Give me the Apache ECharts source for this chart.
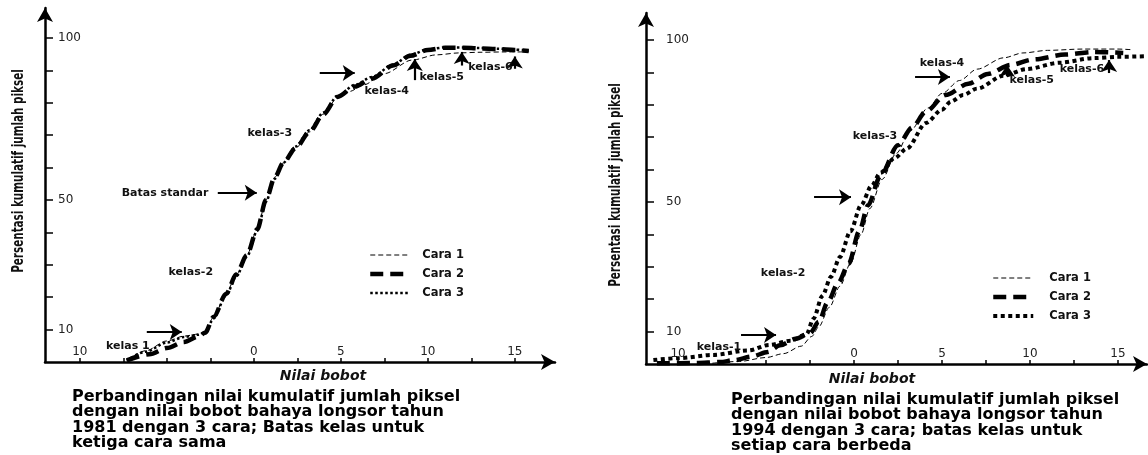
<!DOCTYPE html>
<html><head><meta charset="utf-8">
<script src="https://cdn.jsdelivr.net/npm/echarts@6/dist/echarts.min.js"></script>
<style>html,body{margin:0;padding:0;background:#fff}#c{width:1148px;height:455px}</style>
</head><body><div id="c"></div>
<script>
// ---- 1981 (left) ----
const nilai81Cara1 = [-7.3,-6.2,-5,-4,-3.2,-2.8,-2.3,-1.6,-1,-0.4,0.2,0.7,1.2,1.7,2.4,3.2,4,4.8,5.5,6.3,7.5,9.1,10.5,11.8,13,14.5,15.8];
const persen81Cara1 = [0.5,3.5,6.5,8,8.6,9.2,14,21,27,33,41,50,57,61.5,66,71,76.5,81.5,83.5,85.5,89,93.2,94.8,95.4,95.6,95.7,95.7];
const nilai81Cara2 = [-7.3,-6,-5,-4,-3.2,-2.8,-2.3,-1.6,-1,-0.4,0.2,0.7,1.2,1.7,2.4,3.2,4,4.8,5.8,6.8,8,9,10,11,12,13,14,15,15.8];
const persen81Cara2 = [0.5,2.4,4.3,6.2,7.8,9,14,21,27,33,41,50,57,61.5,66,71,76.5,81.8,85,87.5,91.5,94.5,96.3,97,97,96.8,96.6,96.3,96];
const nilai81Cara3 = [-7.3,-6.2,-5,-4,-3.2,-2.8,-2.3,-1.6,-1,-0.4,0.2,0.7,1.2,1.7,2.4,3.2,4,4.8,5.8,6.8,8,9,10,11,12,13,14,15,15.8];
const persen81Cara3 = [0.5,3.2,6,7.7,8.4,9,13.5,20.5,26.5,32.5,40.5,49.5,56.5,61.5,66.5,71.5,77,82,85.5,88,91.8,94.8,96.5,97.1,97.1,96.9,96.7,96.4,96.1];
// ---- 1994 (right) ----
const nilai94Cara1 = [-8.5,-6.5,-5,-4,-3,-2.4,-2,-1.4,-0.8,-0.2,0.4,0.9,1.6,2.4,3.2,4.2,5,6,7,8.5,9.6,11,13,15,15.8];
const persen94Cara1 = [0,0.8,2,3.2,5.5,8.5,11.5,17.5,24,31,40,48,57,65,72,79,83.5,87.5,91,94.5,96,96.8,97.2,97.2,97];
const nilai94Cara2 = [-11.2,-9,-7.6,-6.8,-5.8,-4.9,-4.2,-3.3,-2.5,-2,-1.5,-0.9,-0.3,0.3,0.8,1.5,2.5,3.3,4.1,5.2,6.5,7.6,8.9,10.2,12,13.6,15.3];
const persen94Cara2 = [0.2,0.3,0.6,1.2,2.3,3.7,5.8,7.8,9.5,13,19,25,31,41,49,58,67.5,73,78,83,86.5,89.5,92.3,94,95.5,96.3,96];
const nilai94Cara3 = [-11.4,-10,-8,-6,-4.8,-3.6,-2.7,-2.3,-1.8,-1.3,-0.8,-0.2,0.4,1,1.5,2.3,3,4.1,5,5.5,6.2,7,8.5,9.8,11.7,13.6,15,16.6];
const persen94Cara3 = [1.2,1.8,2.8,4.2,5.9,7.2,9.2,14,21,27,33,41,49,55,59,63.5,66.5,74.4,78.5,81,83,85,89,91,93,94.4,94.8,95];
// ---- ticks ----
const xTickVals = [-10,-7.5,-5,-2.5,0,2.5,5,7.5,10,12.5,15];
const xLabelVals = [-10,0,5,10,15];
const yTickVals = [10,20,30,40,50,60,70,80,90,100];
const yLabelVals = [10,50,100];
const legendNames = ['Cara 1','Cara 2','Cara 3'];
// ---- annotations (data coords) ----
const labels81 = [['kelas 1',-7.24,4.9],['kelas-2',-3.62,27.8],['Batas standar',-5.1,52.2],['kelas-3',0.92,70.7],['kelas-4',7.64,83.6],['kelas-5',10.8,88],['kelas-6',13.6,91]];
const arrows81 = [[-6.15,9.26,-4.14,9.26],[-2.07,52.2,0.17,52.2],[3.79,89.2,5.8,89.2],[9.25,87,9.25,93.5],[11.95,91.5,11.95,95.7],[15,90.5,15,94.3]];
const labels94 = [['kelas-1',-7.67,5.2],['kelas-2',-4.03,28.1],['kelas-3',1.19,70.4],['kelas-4',5,92.9],['kelas-5',10.1,87.7],['kelas-6',12.95,91]];
const arrows94 = [[-6.42,8.95,-4.43,8.95],[-2.27,51.5,-0.17,51.5],[3.47,88.6,5.45,88.6],[8.7,88.8,8.7,92.3],[14.5,89.8,14.5,93.8]];

const chart = echarts.init(document.getElementById('c'));
const zip = (xs, ys) => xs.map((v, i) => [v, ys[i]]);
const FONT = '"DejaVu Sans", sans-serif';

function xAxisCfg(grid, min, max) {
  return {
    type: 'value', gridIndex: grid, min: min, max: max,
    splitLine: {show: false},
    axisLine: {onZero: false, lineStyle: {color: '#000', width: 2.5}, symbol: ['none', 'arrow'], symbolSize: [12, 14]},
    axisTick: {show: true, inside: true, length: 4, customValues: xTickVals, lineStyle: {color: '#000', width: 1.5}},
    axisLabel: {inside: true, margin: 4, customValues: xLabelVals, formatter: v => String(Math.abs(v)), fontFamily: FONT, fontSize: 12, color: '#222'}
  };
}
function yAxisCfg(grid, max, margin) {
  return {
    type: 'value', gridIndex: grid, min: 0, max: max,
    splitLine: {show: false},
    axisLine: {onZero: false, lineStyle: {color: '#000', width: 2.5}, symbol: ['none', 'arrow'], symbolSize: [12, 14]},
    axisTick: {show: true, inside: true, length: 8, customValues: yTickVals, lineStyle: {color: '#000', width: 1.5}},
    axisLabel: {inside: true, margin: margin, customValues: yLabelVals, fontFamily: FONT, fontSize: 12, color: '#222', align: 'left'}
  };
}
function lineSeries(name, idx, xs, ys, style, extra) {
  return Object.assign({
    type: 'line', name: name, xAxisIndex: idx, yAxisIndex: idx,
    data: zip(xs, ys), symbol: 'none', showSymbol: false,
    smooth: 0.3, smoothMonotone: 'x',
    lineStyle: Object.assign({color: '#000'}, style),
    itemStyle: {color: '#000'}, animation: false
  }, extra || {});
}
function annot(labels, arrows) {
  return {
    markPoint: {
      symbol: 'rect', symbolSize: 1, silent: true, animation: false,
      itemStyle: {color: 'rgba(0,0,0,0)'},
      label: {show: true, position: 'inside', formatter: '{b}', color: '#111', fontFamily: FONT, fontWeight: 'bold', fontSize: 11},
      data: labels.map(l => ({name: l[0], coord: [l[1], l[2]]}))
    },
    markLine: {
      symbol: ['none', 'arrow'], symbolSize: 12, silent: true, animation: false,
      lineStyle: {color: '#000', width: 2.2, type: 'solid'},
      label: {show: false},
      data: arrows.map(a => [{coord: [a[0], a[1]]}, {coord: [a[2], a[3]]}])
    }
  };
}

const c1 = {width: 1, type: [5, 3]};
const c2 = {width: 4.5, type: [13, 7]};
const c3L = {width: 2.5, type: [2.5, 2.5]};
const c3R = {width: 4, type: [4, 3.5]};

function legendCfg(suffix, left, top, pad, c3) {
  const styles = [c1, c2, c3];
  return {
    data: legendNames.map((n, i) => ({
      name: n + suffix,
      itemStyle: {opacity: 0},
      lineStyle: Object.assign({color: '#000', opacity: 1}, styles[i])
    })),
    left: left, top: top, orient: 'vertical', itemWidth: 40, itemHeight: 10, itemGap: 7,
    selectedMode: false, formatter: n => n.split(' (')[0],
    textStyle: {fontFamily: FONT, fontWeight: 'bold', fontSize: 11.5, color: '#111', padding: [0, 0, 0, pad]}
  };
}

const titleFont = 'bold 15px "DejaVu Sans Condensed", "DejaVu Sans", sans-serif';
const capFont = 'bold 16px "DejaVu Sans", sans-serif';
const nameFont = 'italic bold 14px "DejaVu Sans", sans-serif';

chart.setOption({
  animation: false,
  backgroundColor: '#fff',
  grid: [
    {left: 45, top: 8, width: 510, height: 354},
    {left: 646, top: 13, width: 501, height: 351}
  ],
  xAxis: [xAxisCfg(0, -12, 17.31), xAxisCfg(1, -11.82, 16.65)],
  yAxis: [yAxisCfg(0, 109.26, 13), yAxisCfg(1, 108.33, 20)],
  legend: [legendCfg('', 363, 244, 7, c3L), legendCfg(' (1994)', 986, 267, 11, c3R)],
  series: [
    lineSeries('Cara 1', 0, nilai81Cara1, persen81Cara1, c1),
    lineSeries('Cara 3', 0, nilai81Cara3, persen81Cara3, c3L),
    lineSeries('Cara 2', 0, nilai81Cara2, persen81Cara2, c2, annot(labels81, arrows81)),
    lineSeries('Cara 1 (1994)', 1, nilai94Cara1, persen94Cara1, c1),
    lineSeries('Cara 3 (1994)', 1, nilai94Cara3, persen94Cara3, c3R),
    lineSeries('Cara 2 (1994)', 1, nilai94Cara2, persen94Cara2, c2, annot(labels94, arrows94))
  ],
  graphic: [
    {type: 'text', x: 19, y: 171, rotation: Math.PI / 2, scaleX: 0.77, style: {text: 'Persentasi kumulatif jumlah piksel', font: titleFont, fill: '#111', textAlign: 'center', textVerticalAlign: 'middle'}},
    {type: 'text', x: 616, y: 185, rotation: Math.PI / 2, scaleX: 0.77, style: {text: 'Persentasi kumulatif jumlah piksel', font: titleFont, fill: '#111', textAlign: 'center', textVerticalAlign: 'middle'}},
    {type: 'text', x: 323, y: 376, style: {text: 'Nilai bobot', font: nameFont, fill: '#111', textAlign: 'center', textVerticalAlign: 'middle'}},
    {type: 'text', x: 872, y: 379, style: {text: 'Nilai bobot', font: nameFont, fill: '#111', textAlign: 'center', textVerticalAlign: 'middle'}},
    {type: 'text', x: 72, y: 389, style: {text: 'Perbandingan nilai kumulatif jumlah piksel\ndengan nilai bobot bahaya longsor tahun\n1981 dengan 3 cara; Batas kelas untuk\nketiga cara sama', font: capFont, lineHeight: 15.5, fill: '#000', textAlign: 'left', textVerticalAlign: 'top'}},
    {type: 'text', x: 731, y: 392, style: {text: 'Perbandingan nilai kumulatif jumlah piksel\ndengan nilai bobot bahaya longsor tahun\n1994 dengan 3 cara; batas kelas untuk\nsetiap cara berbeda', font: capFont, lineHeight: 15.5, fill: '#000', textAlign: 'left', textVerticalAlign: 'top'}}
  ]
});
</script></body></html>
